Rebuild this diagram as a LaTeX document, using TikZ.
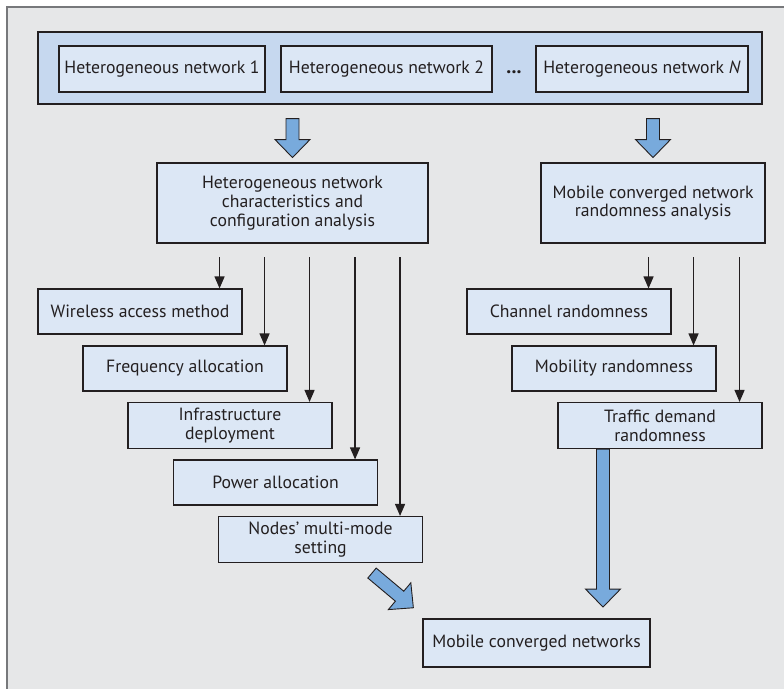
\documentclass[tikz,border=0pt]{standalone}
\usepackage{fontspec}
\setmainfont{PT Sans}
\usetikzlibrary{calc,arrows.meta,positioning}

\definecolor{ink}{HTML}{231F20}
\definecolor{panelgray}{HTML}{E6E7E8}
\definecolor{framegray}{HTML}{77787B}
\definecolor{topblue}{HTML}{C6D8EF}
\definecolor{boxblue}{HTML}{DCE7F5}
\definecolor{arrowblue}{HTML}{78AADC}

\begin{document}
\begin{tikzpicture}[x=1pt, y=-1pt, font=\fontsize{17.7}{18.8}\selectfont, text=ink,
    box/.style={draw=ink, fill=boxblue, line width=1.1pt, minimum width=204pt,
      minimum height=45pt, align=center, inner sep=2pt},
    tip/.style={draw=ink, line width=1.2pt, -{Triangle[length=12pt,width=10pt]}},
    fat/.style={draw=ink, fill=arrowblue, line width=0.9pt, line join=miter},
    pics/fatarrow/.style={code={
      \path[fat] (-6.5,0) -- (6.5,0) -- (6.5,#1) -- (17.5,#1) -- (0,{#1+18})
        -- (-17.5,#1) -- (-6.5,#1) -- cycle;}}]
  \useasboundingbox (0,0) rectangle (784,688);
  \draw[fill=panelgray, draw=framegray, line width=2pt] (7,7) rectangle (800,700);

  % networks
  \node[draw=ink, fill=topblue, line width=1.1pt, minimum width=724pt,
    minimum height=72pt] (nets) at (400,68) {};
  \node[box, minimum width=206pt, minimum height=46pt] (hn1) at (162,69) {Heterogeneous network 1};
  \node[box, minimum width=211pt, minimum height=46pt] (hn2) at (386.5,69) {Heterogeneous network 2};
  \node[box, minimum width=212pt, minimum height=46pt] (hnN) at (642,69) {Heterogeneous network \textit{N}};
  \node[anchor=base, inner sep=0pt, font=\fontsize{20}{20}\selectfont\bfseries] (dots) at ($(hn2.base east)!0.5!(hnN.base west)$) {...};

  % analysis
  \node[box, minimum width=271pt, minimum height=80pt] (hca) at (292.5,203)
    {Heterogeneous network\\characteristics and\\configuration analysis};
  \node[box, minimum width=224pt, minimum height=80pt] (mra) at (653,203)
    {Mobile converged network\\randomness analysis};
  \pic at ($(nets.south -| hca)+(0,14)$) {fatarrow=21};
  \pic at ($(nets.south -| mra)+(0,14)$) {fatarrow=21};

  % left column
  \node[box] (wam) at (140,311.5) {Wireless access method};
  \node[box] (freq) at (185,368.5) {Frequency allocation};
  \node[box, minimum height=46pt] (infra) at (230,425.5) {Infrastructure\\deployment};
  \node[box] (power) at (275.5,482.5) {Power allocation};
  \node[box, minimum height=46pt] (modes) at (320.5,539.5) {Nodes’ multi-mode\\setting};

  % right column
  \node[box] (chan) at (569,311.5) {Channel randomness};
  \node[box] (mob) at (614,368.5) {Mobility randomness};
  \node[box, minimum height=46pt] (traf) at (660,425.5) {Traffic demand\\randomness};

  \coordinate (fork) at (0,257);
  \foreach \n in {wam,freq,infra,power,modes,chan,mob,traf}{
    \coordinate (\n-in) at ($(\n.north east)+(-23,0)$);
    \draw[tip] (\n-in |- fork) -- (\n-in);
  }

  % result
  \node[box, minimum width=227pt, minimum height=48pt] (mcn) at (536.5,643) {Mobile converged networks};
  \pic[rotate=50] at ($(modes.south)+(51.5,10)$) {fatarrow=36};
  \pic at ($(traf.south)+(-57,0)$) {fatarrow=140};
\end{tikzpicture}
\end{document}
